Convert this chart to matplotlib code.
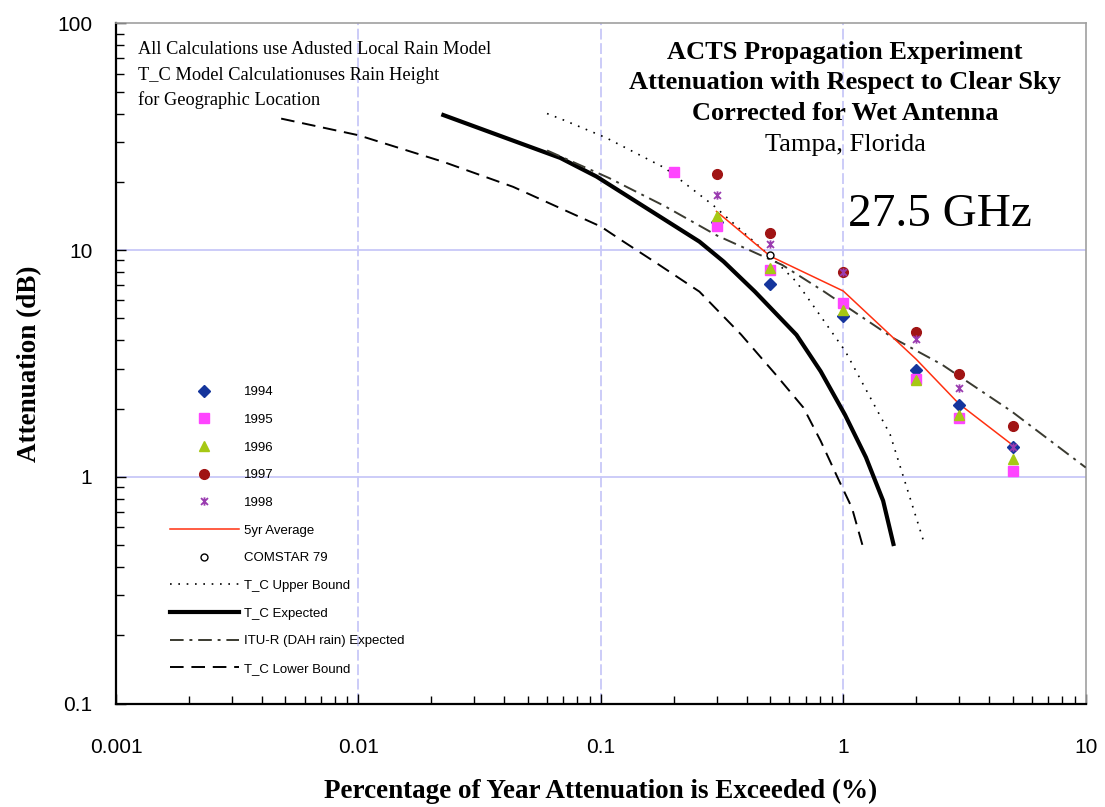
import matplotlib
matplotlib.use("Agg")
import matplotlib.pyplot as plt
from matplotlib.path import Path
from matplotlib.ticker import LogLocator, NullFormatter

# ACTS 27.5 GHz, Tampa -- measured yearly points (% of year exceeded, dB)
pct_1994 = [0.3, 0.5, 1, 2, 3, 5]
att_1994 = [13.3, 7.1, 5.1, 2.97, 2.08, 1.35]
pct_1995 = [0.2, 0.3, 0.5, 1, 2, 3, 5]
att_1995 = [22.2, 12.8, 8.2, 5.83, 2.71, 1.82, 1.06]
pct_1996 = [0.3, 0.5, 1, 2, 3, 5]
att_1996 = [14.1, 8.3, 5.45, 2.68, 1.88, 1.2]
pct_1997 = [0.3, 0.5, 1, 2, 3, 5]
att_1997 = [21.6, 11.9, 8.0, 4.35, 2.85, 1.67]
pct_1998 = [0.3, 0.5, 1, 2, 3, 5]
att_1998 = [17.5, 10.6, 8.0, 4.07, 2.47, 1.35]

pct_avg = [0.3, 0.5, 1, 2, 3, 5]
att_avg = [14.8, 9.4, 6.6, 3.3, 2.1, 1.38]

pct_comstar = [0.5]
att_comstar = [9.5]

# model curves
pct_upper = [0.06, 0.07, 0.105, 0.184, 0.29, 0.5, 0.64, 1.02, 1.56, 2.17]
att_upper = [40, 37.5, 31.3, 23, 15.8, 9.4, 7.26, 3.58, 1.54, 0.5]
pct_expected = [0.0224, 0.068, 0.096, 0.255, 0.321, 0.432, 0.641, 0.807, 1.016, 1.24, 1.46, 1.61]
att_expected = [39.4, 25.5, 21.1, 10.9, 8.9, 6.56, 4.23, 2.92, 1.88, 1.22, 0.785, 0.506]
pct_itu = [0.06, 0.108, 0.184, 0.301, 0.56, 0.834, 1.61, 2.55, 4.93, 10]
att_itu = [27.5, 20.8, 15.6, 11.6, 8.6, 6.56, 4.09, 3.13, 1.95, 1.1]
pct_lower = [0.0048, 0.01, 0.0224, 0.0435, 0.1, 0.124, 0.166, 0.255, 0.379, 0.526, 0.685, 0.807, 0.953, 1.086, 1.2]
att_lower = [38, 32.1, 24.5, 19, 12.7, 10.9, 8.9, 6.56, 4.24, 2.83, 2.02, 1.44, 0.98, 0.73, 0.5]

x_ticks = [0.001, 0.01, 0.1, 1, 10]
x_labels = ["0.001", "0.01", "0.1", "1", "10"]
y_ticks = [0.1, 1, 10, 100]
y_labels = ["0.1", "1", "10", "100"]

W, H = 1105, 807
AX_L, AX_R, AX_T, AX_B = 116, 1085.7, 23.3, 703.7


def fx(px):
    return px / W


def fy(py):
    return 1 - py / H


fig = plt.figure(figsize=(W / 100, H / 100), dpi=100)
ax = fig.add_axes([fx(AX_L), fy(AX_B), fx(AX_R) - fx(AX_L), fy(AX_T) - fy(AX_B)])
ax.set_xscale("log")
ax.set_yscale("log")
ax.set_xlim(0.001, 10)
ax.set_ylim(0.1, 100)

# grid at decades only
for v in x_ticks[1:-1]:
    ax.axvline(v, color="#c8c8f8", lw=1.3, ls=(0, (6, 2)), zorder=0)
for v in y_ticks[1:-1]:
    ax.axhline(v, color="#c8c8f8", lw=1.3, zorder=0)

# Excel style "star" marker: x with a vertical bar
star = Path([(-1, -1), (1, 1), (-1, 1), (1, -1), (0, -1.2), (0, 1.2)],
            [Path.MOVETO, Path.LINETO, Path.MOVETO, Path.LINETO, Path.MOVETO, Path.LINETO])

ax.plot(pct_1994, att_1994, ls="none", marker="D", ms=6.5, color="#15359c",
        mec="#15359c", label="1994", zorder=5)
ax.plot(pct_1995, att_1995, ls="none", marker="s", ms=6.5, color="#ff44ff",
        mec="#ff44ff", label="1995", zorder=5)
ax.plot(pct_1996, att_1996, ls="none", marker="^", ms=7.5, color="#a6c814",
        mec="#a6c814", label="1996", zorder=5)
ax.plot(pct_1997, att_1997, ls="none", marker="o", ms=7, color="#a01414",
        mec="#a01414", label="1997", zorder=5)
ax.plot(pct_1998, att_1998, ls="none", marker=star, ms=6, color="#9a3cb0",
        mec="#9a3cb0", mew=1.3, label="1998", zorder=6)
ax.plot(pct_avg, att_avg, color="#ff3010", lw=1.1, label="5yr Average", zorder=4)
ax.plot(pct_comstar, att_comstar, ls="none", marker="o", ms=5, mfc="white",
        mec="black", mew=1, label="COMSTAR 79", zorder=6)
ax.plot(pct_upper, att_upper, color="black", lw=1.2, ls=(0, (1, 4)),
        label="T_C Upper Bound", zorder=3)
ax.plot(pct_expected, att_expected, color="black", lw=3,
        label="T_C Expected", zorder=3)
ax.plot(pct_itu, att_itu, color="#3a3a30", lw=1.4, ls=(0, (7, 3, 1.5, 3)),
        label="ITU-R (DAH rain) Expected", zorder=3)
ax.plot(pct_lower, att_lower, color="black", lw=1.4, ls=(0, (7, 4)),
        label="T_C Lower Bound", zorder=3)

# axes styling
for side in ["top", "right"]:
    ax.spines[side].set_color("#a0a0a0")
    ax.spines[side].set_linewidth(1.2)
for side in ["left", "bottom"]:
    ax.spines[side].set_color("black")
    ax.spines[side].set_linewidth(1.6)

ax.set_xticks(x_ticks, x_labels)
ax.set_yticks(y_ticks, y_labels)
ax.xaxis.set_minor_locator(LogLocator(base=10, subs=range(2, 10), numticks=20))
ax.yaxis.set_minor_locator(LogLocator(base=10, subs=range(2, 10), numticks=20))
ax.xaxis.set_minor_formatter(NullFormatter())
ax.yaxis.set_minor_formatter(NullFormatter())
ax.tick_params(which="both", direction="in", top=False, right=False, width=1, color="black")
ax.tick_params(which="major", length=7)
ax.tick_params(which="minor", length=6)
ax.tick_params(axis="x", which="major", pad=25, labelsize=15)
ax.tick_params(axis="y", which="major", pad=17, labelsize=15)
for lab in ax.get_xticklabels() + ax.get_yticklabels():
    lab.set_family("Liberation Sans")

ax.set_xlabel("Percentage of Year Attenuation is Exceeded (%)", family="Liberation Serif",
              weight="bold", fontsize=19.5)
ax.xaxis.set_label_coords(0.5, (AX_B - 779) / (AX_B - AX_T))
ax.set_ylabel("Attenuation (dB)", family="Liberation Serif", weight="bold", fontsize=19.5)
ax.yaxis.set_label_coords((42 - AX_L) / (AX_R - AX_L), 0.5)

ax.legend(loc="upper left",
          bbox_to_anchor=((170 - AX_L) / (AX_R - AX_L), (AX_B - 386) / (AX_B - AX_T)),
          frameon=False, borderpad=0, borderaxespad=0,
          labelspacing=1.17, handlelength=5.2, handletextpad=0.4, numpoints=1,
          prop={"family": "Liberation Sans", "size": 9.5})

# notes and title block
notes = ["All Calculations use Adusted Local Rain Model",
         "T_C Model Calculationuses Rain Height",
         "for Geographic Location"]
for i, line in enumerate(notes):
    fig.text(fx(138), fy(50 + 25 * i), line, family="Liberation Serif", fontsize=13.2,
             ha="left", va="center")

title = ["ACTS Propagation Experiment",
         "Attenuation with Respect to Clear Sky",
         "Corrected for Wet Antenna"]
for i, line in enumerate(title):
    fig.text(fx(845), fy(52 + 31 * i), line, family="Liberation Serif", weight="bold",
             fontsize=19, ha="center", va="center")
fig.text(fx(845), fy(145), "Tampa, Florida", family="Liberation Serif", fontsize=19,
         ha="center", va="center")
fig.text(fx(940), fy(215), "27.5 GHz", family="Liberation Serif", fontsize=34,
         ha="center", va="center")

fig.savefig("out.png", dpi=100)
